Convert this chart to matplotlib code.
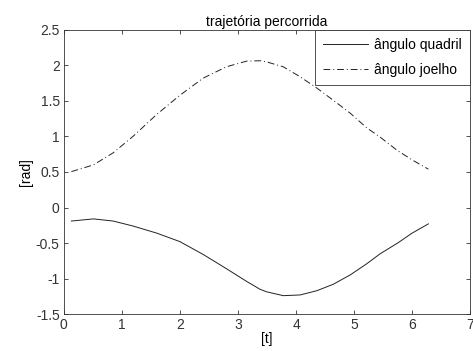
import matplotlib
matplotlib.use("Agg")
import matplotlib.pyplot as plt

# values
t = [0.13, 0.51, 0.85, 1.19, 1.6, 2.0, 2.4, 2.8, 3.15, 3.38, 3.49, 3.78,
     4.07, 4.36, 4.64, 4.93, 5.22, 5.45, 5.75, 6.0, 6.28]
quadril = [-0.19, -0.16, -0.19, -0.26, -0.36, -0.48, -0.66, -0.86, -1.04, -1.15,
           -1.185, -1.24, -1.23, -1.17, -1.08, -0.95, -0.79, -0.65, -0.50, -0.36, -0.23]
joelho = [0.505, 0.60, 0.77, 1.0, 1.31, 1.58, 1.82, 1.98, 2.06, 2.065,
          2.05, 1.98, 1.84, 1.68, 1.51, 1.33, 1.12, 0.99, 0.80, 0.67, 0.54]

xticks = [0, 1, 2, 3, 4, 5, 6, 7]
yticks = [-1.5, -1, -0.5, 0, 0.5, 1, 1.5, 2, 2.5]
ytick_labels = ["-1.5", "-1", "-0.5", "0", "0.5", "1", "1.5", "2", "2.5"]

plt.rcParams["font.family"] = ["Liberation Sans", "DejaVu Sans"]
plt.rcParams["font.size"] = 10

fig = plt.figure(figsize=(4.73, 3.51), dpi=100)
ax = fig.add_axes([0.135, 0.105, 0.859, 0.81])

ax.plot(t, quadril, color="#222222", linewidth=0.7, label="ângulo quadril")
ax.plot(t, joelho, color="#222222", linewidth=0.7, linestyle=(0, (7, 3, 1, 3)),
        label="ângulo joelho")

ax.set_xlim(0, 7)
ax.set_ylim(-1.5, 2.5)
ax.set_xticks(xticks)
ax.set_yticks(yticks)
ax.set_yticklabels(ytick_labels)
ax.tick_params(direction="in", length=3, width=0.6, top=True, right=True,
               labeltop=False, labelright=False, colors="#333333", labelsize=10,
               pad=3)
for s in ax.spines.values():
    s.set_color("#333333")
    s.set_linewidth(0.6)

ax.set_title("trajetória percorrida", fontsize=10, pad=3)
ax.set_xlabel("[t]", labelpad=0)
ax.set_ylabel("[rad]", labelpad=2)

leg = ax.legend(loc="upper right", borderaxespad=0, fancybox=False,
                handlelength=3.2, handletextpad=0.45, framealpha=1,
                edgecolor="#333333", fontsize=10, borderpad=0.6,
                labelspacing=0.75)
leg.get_frame().set_linewidth(0.6)

plt.savefig("out.png", dpi=100)
